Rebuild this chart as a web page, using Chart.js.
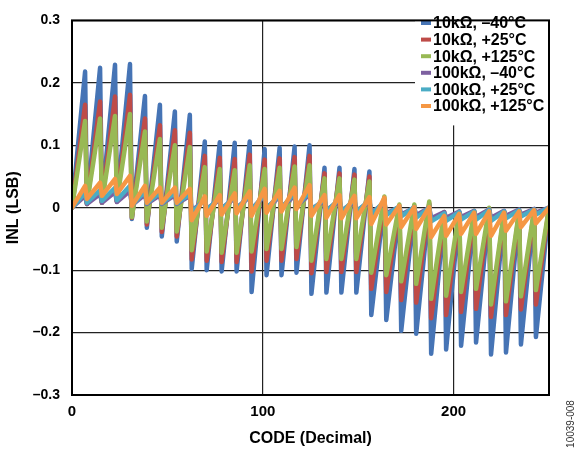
<!DOCTYPE html>
<html lang="en">
<head>
<meta charset="UTF-8">
<title>INL vs Code</title>
<script src="https://cdn.jsdelivr.net/npm/chart.js"></script>
<style>
  html, body { margin: 0; padding: 0; background: #fff; }
  #wrap { position: relative; width: 577px; height: 452px; }
</style>
</head>
<body>
<div id="wrap"><canvas id="inlChart"></canvas></div>
<script>
// Each curve is a sawtooth: one low point and one peak per 8-code segment.
// Positions along the CODE axis
const lowCode = [0, 7.84, 15.69, 23.53, 31.37, 39.22, 47.06, 54.9, 62.75, 70.59, 78.43, 86.27,
  94.12, 101.96, 109.8, 117.65, 125.49, 133.33, 141.18, 149.02, 156.86, 164.71, 172.55, 180.39,
  188.24, 196.08, 203.92, 211.76, 219.61, 227.45, 235.29, 243.14];
const peakCode = [6.86, 14.71, 22.55, 30.39, 38.24, 46.08, 53.92, 61.76, 69.61, 77.45, 85.29, 93.14,
  100.98, 108.82, 116.67, 124.51, 132.35, 140.2, 148.04, 155.88, 163.73, 171.57, 179.41, 187.25,
  195.1, 202.94, 210.78, 218.63, 226.47, 234.31, 242.16, 250];

// INL (LSB) at the low points and peaks
const low10kN40 = [0, 0.006, 0.008, 0.01, -0.018, -0.032, -0.046, -0.054, -0.098, -0.1, -0.102, -0.102,
  -0.135, -0.108, -0.108, -0.104, -0.138, -0.136, -0.136, -0.136, -0.172, -0.18, -0.197, -0.202,
  -0.234, -0.227, -0.221, -0.216, -0.235, -0.232, -0.219, -0.207];
const peak10kN40 = [0.218, 0.224, 0.229, 0.23, 0.179, 0.165, 0.154, 0.149, 0.106, 0.105, 0.104, 0.106,
  0.094, 0.096, 0.098, 0.1, 0.064, 0.064, 0.062, 0.058, 0.012, 0, 0, 0.005,
  -0.012, -0.01, -0.008, -0.004, -0.008, -0.008, -0.006, 0];

const low10kP25 = [0, 0.006, 0.008, 0.01, -0.016, -0.027, -0.039, -0.046, -0.083, -0.085, -0.087, -0.087,
  -0.102, -0.085, -0.085, -0.082, -0.105, -0.103, -0.103, -0.103, -0.13, -0.135, -0.148, -0.152,
  -0.177, -0.172, -0.167, -0.162, -0.175, -0.172, -0.163, -0.155];
const peak10kP25 = [0.165, 0.17, 0.178, 0.181, 0.143, 0.132, 0.124, 0.12, 0.083, 0.08, 0.078, 0.085,
  0.077, 0.079, 0.081, 0.083, 0.055, 0.055, 0.053, 0.05, 0.014, 0.003, 0.003, 0.007,
  -0.01, -0.008, -0.006, -0.002, -0.007, -0.007, -0.005, 0];

const low10kP125 = [0, 0.006, 0.008, 0.01, -0.015, -0.022, -0.032, -0.038, -0.068, -0.07, -0.072, -0.072,
  -0.07, -0.066, -0.066, -0.063, -0.085, -0.082, -0.082, -0.082, -0.104, -0.108, -0.118, -0.122,
  -0.146, -0.141, -0.135, -0.13, -0.155, -0.15, -0.142, -0.132];
const peak10kP125 = [0.139, 0.143, 0.147, 0.15, 0.122, 0.11, 0.1, 0.097, 0.065, 0.062, 0.06, 0.068,
  0.062, 0.064, 0.066, 0.068, 0.047, 0.047, 0.045, 0.042, 0.018, 0.005, 0.005, 0.01,
  -0.007, -0.006, -0.005, 0, -0.006, -0.006, -0.004, 0];

const low100kN40 = [0, 0.006, 0.008, 0.009, 0.004, 0.006, 0.006, 0.006, -0.005, -0.002, -0.001, 0,
  -0.002, 0, 0.001, 0.003, -0.002, -0.004, -0.005, -0.005, -0.008, -0.009, -0.011, -0.012,
  -0.017, -0.016, -0.015, -0.015, -0.016, -0.013, -0.011, -0.008];
const peak100kN40 = [0.019, 0.022, 0.025, 0.027, 0.021, 0.02, 0.02, 0.019, 0.012, 0.013, 0.015, 0.017,
  0.019, 0.017, 0.019, 0.021, 0.011, 0.011, 0.01, 0.009, 0.007, 0.001, 0, 0,
  -0.007, -0.006, -0.005, -0.003, -0.005, -0.003, -0.002, 0];

const low100kP25 = [0, 0.008, 0.011, 0.012, 0.004, 0.007, 0.007, 0.007, -0.008, -0.004, -0.003, -0.002,
  -0.004, -0.001, 0, 0.002, -0.004, -0.006, -0.007, -0.007, -0.011, -0.012, -0.014, -0.016,
  -0.022, -0.021, -0.019, -0.019, -0.021, -0.017, -0.014, -0.011];
const peak100kP25 = [0.024, 0.028, 0.032, 0.035, 0.026, 0.024, 0.024, 0.022, 0.014, 0.016, 0.018, 0.02,
  0.022, 0.02, 0.023, 0.026, 0.014, 0.014, 0.013, 0.012, 0.01, 0.002, 0.001, 0,
  -0.009, -0.007, -0.006, -0.004, -0.006, -0.004, -0.003, 0];

const low100kP125 = [0, 0.014, 0.019, 0.022, 0.003, 0.008, 0.008, 0.008, -0.02, -0.013, -0.011, -0.009,
  -0.013, -0.008, -0.006, -0.002, -0.013, -0.016, -0.017, -0.017, -0.026, -0.027, -0.031, -0.034,
  -0.047, -0.045, -0.042, -0.042, -0.045, -0.037, -0.031, -0.025];
const peak100kP125 = [0.035, 0.04, 0.046, 0.051, 0.035, 0.032, 0.032, 0.03, 0.018, 0.02, 0.023, 0.026,
  0.03, 0.027, 0.032, 0.036, 0.02, 0.02, 0.019, 0.017, 0.016, 0.003, 0.001, 0.001,
  -0.013, -0.01, -0.008, -0.006, -0.008, -0.006, -0.004, 0];

const seriesLabels = ['10kΩ, –40°C', '10kΩ, +25°C', '10kΩ, +125°C',
  '100kΩ, –40°C', '100kΩ, +25°C', '100kΩ, +125°C'];
const seriesLows = [low10kN40, low10kP25, low10kP125, low100kN40, low100kP25, low100kP125];
const seriesPeaks = [peak10kN40, peak10kP25, peak10kP125, peak100kN40, peak100kP25, peak100kP125];
const seriesColors = ['#4674b5', '#be4b48', '#98b954', '#7d60a0', '#4aacc5', '#f59744'];

const FONT = '"Liberation Sans", Arial, sans-serif';

function sawPoints(low, peak) {
  const pts = [];
  for (let k = 0; k < low.length; k++) {
    pts.push({ x: lowCode[k], y: low[k] });
    pts.push({ x: peakCode[k], y: peak[k] });
  }
  return pts;
}

const datasets = seriesLabels.map((label, i) => ({
  label: label,
  data: sawPoints(seriesLows[i], seriesPeaks[i]),
  borderColor: seriesColors[i],
  backgroundColor: seriesColors[i],
  borderWidth: 4.5,
  borderJoinStyle: 'round',
  borderCapStyle: 'round',
  pointRadius: 0,
  tension: 0,
  order: seriesLabels.length - i   // last series drawn on top
}));

function fmtTick(v) {
  if (Math.abs(v) < 1e-9) return '0';
  return (v < 0 ? '–' : '') + Math.abs(v).toFixed(1);
}

// legend box in the top right corner, plot frame and figure number
const decorations = {
  id: 'decorations',
  afterDraw(chart) {
    const { ctx, chartArea: a } = chart;
    ctx.save();
    ctx.fillStyle = '#fff';
    ctx.fillRect(415, a.top, a.right - 415, 105);
    ctx.font = 'bold 16px ' + FONT;
    ctx.textBaseline = 'middle';
    ctx.textAlign = 'left';
    seriesLabels.forEach((label, i) => {
      const y = 23 + i * 16.6;
      ctx.strokeStyle = seriesColors[i];
      ctx.lineWidth = 4;
      ctx.beginPath();
      ctx.moveTo(421, y);
      ctx.lineTo(431, y);
      ctx.stroke();
      ctx.fillStyle = '#000';
      ctx.fillText(label, 433, y + 1);
    });
    ctx.strokeStyle = '#000';
    ctx.lineWidth = 2;
    ctx.strokeRect(a.left, a.top, a.right - a.left, a.bottom - a.top);

    ctx.translate(571, 424);
    ctx.rotate(-Math.PI / 2);
    ctx.font = '10px ' + FONT;
    ctx.fillStyle = '#333';
    ctx.textAlign = 'center';
    ctx.fillText('10039-008', 0, 0);
    ctx.restore();
  }
};

new Chart(document.getElementById('inlChart'), {
  type: 'line',
  data: { datasets: datasets },
  plugins: [decorations],
  options: {
    responsive: true,
    maintainAspectRatio: false,
    animation: false,
    devicePixelRatio: 1,
    layout: { padding: { top: 12, right: 28, left: 0, bottom: 0 } },
    plugins: { legend: { display: false }, tooltip: { enabled: false } },
    scales: {
      x: {
        type: 'linear',
        min: 0,
        max: 250,
        afterFit(scale) { scale.height = 57; },
        afterBuildTicks(scale) { scale.ticks = scale.ticks.filter(t => t.value % 100 === 0); },
        grid: { color: '#222', lineWidth: 1.2, drawTicks: false },
        border: { display: false },
        ticks: {
          stepSize: 100,
          padding: 8,
          color: '#000',
          font: { family: FONT, size: 15, weight: 'bold' },
          maxRotation: 0
        },
        title: {
          display: true,
          text: 'CODE (Decimal)',
          color: '#000',
          font: { family: FONT, size: 16, weight: 'bold' },
          padding: { top: 0, bottom: 4 }
        }
      },
      y: {
        min: -0.3,
        max: 0.3,
        afterFit(scale) { scale.width = 72; },
        grid: { color: '#222', lineWidth: 1.2, drawTicks: false },
        border: { display: false },
        ticks: {
          stepSize: 0.1,
          padding: 12,
          color: '#000',
          font: { family: FONT, size: 14, weight: 'bold' },
          callback: fmtTick
        },
        title: {
          display: true,
          text: 'INL (LSB)',
          color: '#000',
          font: { family: FONT, size: 16, weight: 'bold' },
          padding: { top: 4, bottom: 0 }
        }
      }
    }
  }
});
</script>
</body>
</html>
